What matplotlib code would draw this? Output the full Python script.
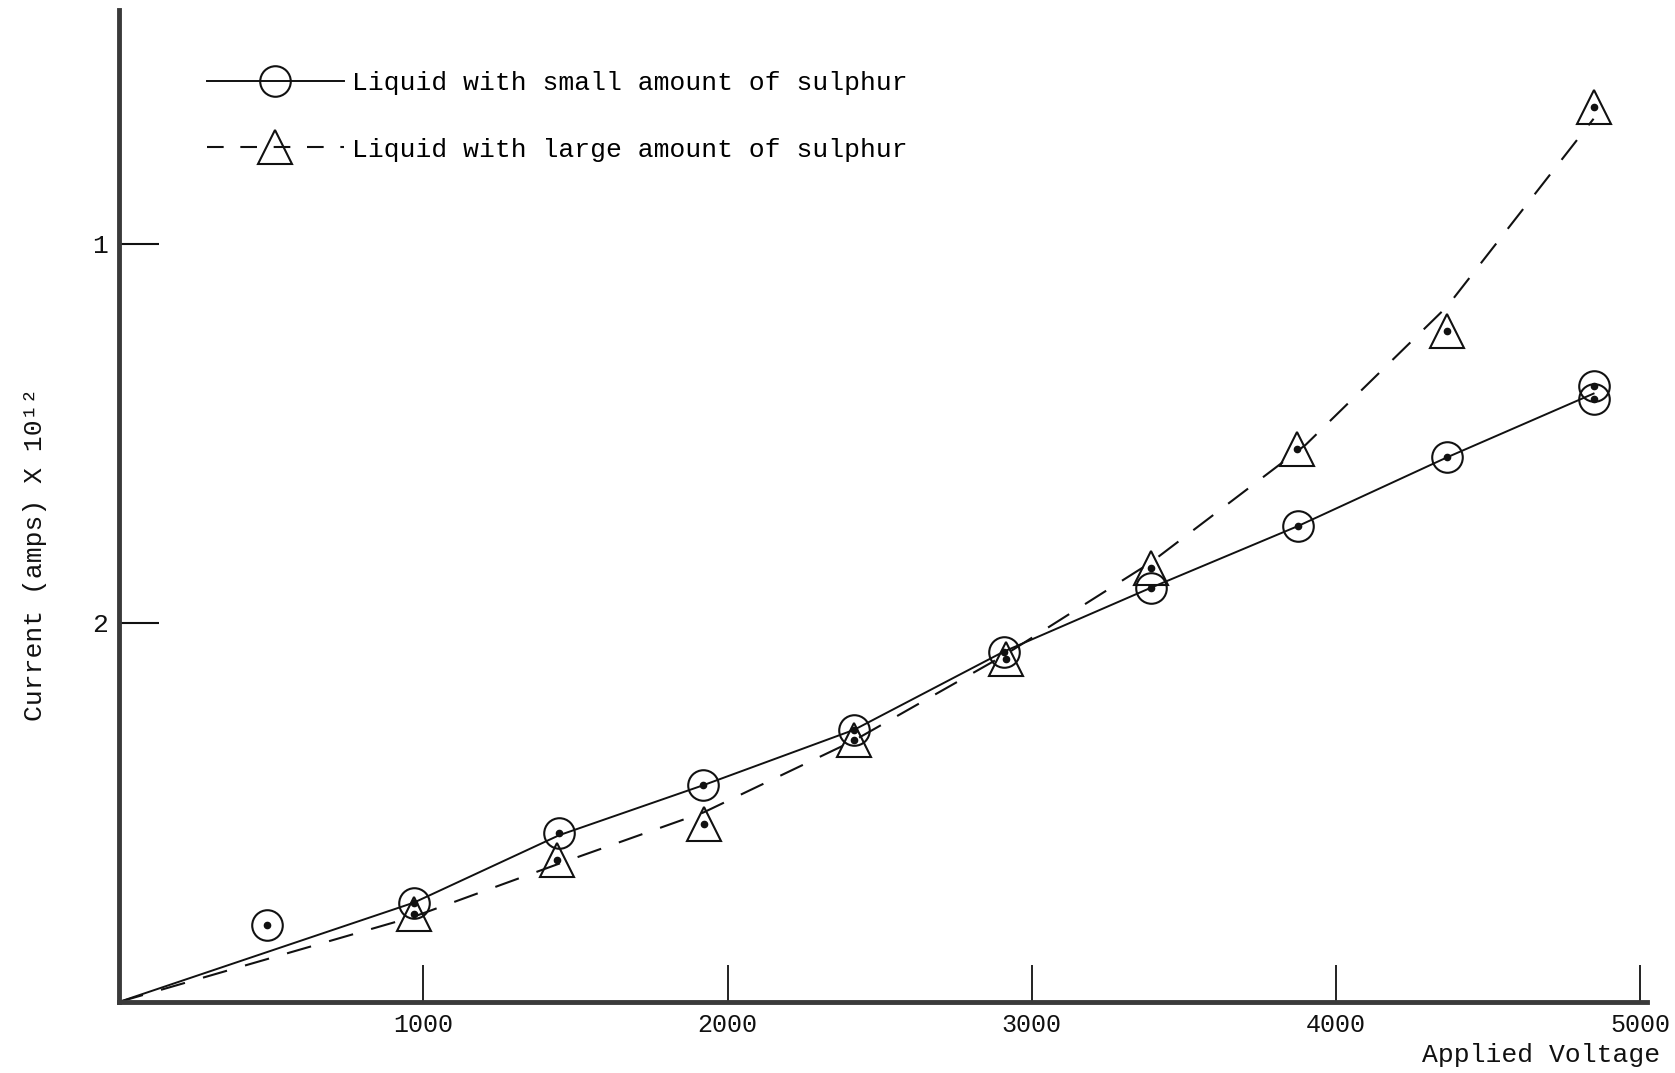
import matplotlib
matplotlib.use("Agg")
import matplotlib.pyplot as plt

# ---- data ----
# applied voltage of the measured points
volt_small = [485, 969, 1447, 1921, 2416, 2907, 3392, 3876, 4365, 4846, 4846]
cur_small = [0.203, 0.262, 0.445, 0.572, 0.718, 0.924, 1.093, 1.256, 1.437, 1.625, 1.592]

volt_large = [969, 1440, 1924, 2416, 2914, 3392, 3873, 4365, 4846]
cur_large = [0.232, 0.375, 0.470, 0.690, 0.905, 1.145, 1.460, 1.770, 2.360]

# hand-drawn curves through the points
fit_small_v = [0, 969, 1447, 1921, 2416, 2907, 3392, 3876, 4365, 4846]
fit_small_i = [0, 0.262, 0.440, 0.572, 0.718, 0.924, 1.093, 1.256, 1.437, 1.605]

fit_large_v = [0, 969, 1447, 1921, 2416, 2910, 3392, 3900, 4365, 4846]
fit_large_i = [0, 0.225, 0.365, 0.500, 0.690, 0.915, 1.160, 1.470, 1.835, 2.330]

x_ticks = [1000, 2000, 3000, 4000, 5000]
x_tick_labels = ["1000", "2000", "3000", "4000", "5000"]
y_ticks = [1, 2]
y_tick_labels = ["2", "1"]

label_small = "Liquid with small amount of sulphur"
label_large = "Liquid with large amount of sulphur"
x_label = "Applied Voltage"
y_label = "Current (amps) X 10¹²"

FONT = ["Liberation Mono", "DejaVu Sans Mono"]

fig = plt.figure(figsize=(16.75, 10.73), dpi=100)
ax = fig.add_axes([0.0710, 0.0662, 0.912, 0.9245])
ax.set_xlim(0, 5020)
ax.set_ylim(0, 2.617)

ink = "#111111"

# curves
ax.plot(fit_small_v, fit_small_i, color=ink, lw=1.4, zorder=2)
ax.plot(fit_large_v, fit_large_i, color=ink, lw=1.5, dashes=(12, 9), zorder=2)

# markers
ax.plot(volt_small, cur_small, ls="none", marker="o", ms=22, mfc="none",
        mec=ink, mew=1.5, zorder=3)
ax.plot(volt_small, cur_small, ls="none", marker="o", ms=4.5, color=ink, zorder=4)
ax.plot(volt_large, cur_large, ls="none", marker="^", ms=24, mfc="none",
        mec=ink, mew=1.5, zorder=3)
ax.plot(volt_large, cur_large, ls="none", marker="o", ms=4.5, color=ink, zorder=4)

# legend
h1, = ax.plot([], [], color=ink, lw=1.4, marker="o", ms=22, mfc="none", mec=ink, mew=1.5)
h2, = ax.plot([], [], color=ink, lw=1.5, dashes=(8, 8), marker="^", ms=24, mfc="none",
              mec=ink, mew=1.5)
leg = ax.legend([h1, h2], [label_small, label_large], loc="upper left",
                bbox_to_anchor=(0.042, 0.962), frameon=False, handlelength=5.2,
                handletextpad=0.3, labelspacing=1.6, numpoints=1,
                prop={"family": FONT, "size": 19})

# spines
for s in ["top", "right"]:
    ax.spines[s].set_visible(False)
for s in ["left", "bottom"]:
    ax.spines[s].set_linewidth(3.5)
    ax.spines[s].set_color("#3a3a3a")

ax.set_xticks(x_ticks)
ax.set_xticklabels(x_tick_labels, family=FONT, fontsize=18)
ax.set_yticks(y_ticks)
ax.set_yticklabels(y_tick_labels, family=FONT, fontsize=19)
ax.tick_params(axis="x", direction="in", length=27, width=1.3, colors=ink, pad=8)
ax.tick_params(axis="y", direction="in", length=29, width=1.5, colors=ink, pad=8)

ax.text(1.009, -0.053, x_label, transform=ax.transAxes, ha="right", va="center",
        family=FONT, fontsize=19, color=ink)
fig.text(0.021, 0.483, y_label, rotation=90, ha="center", va="center",
         family=FONT, fontsize=19, color=ink)

fig.savefig("out.png", dpi=100)
